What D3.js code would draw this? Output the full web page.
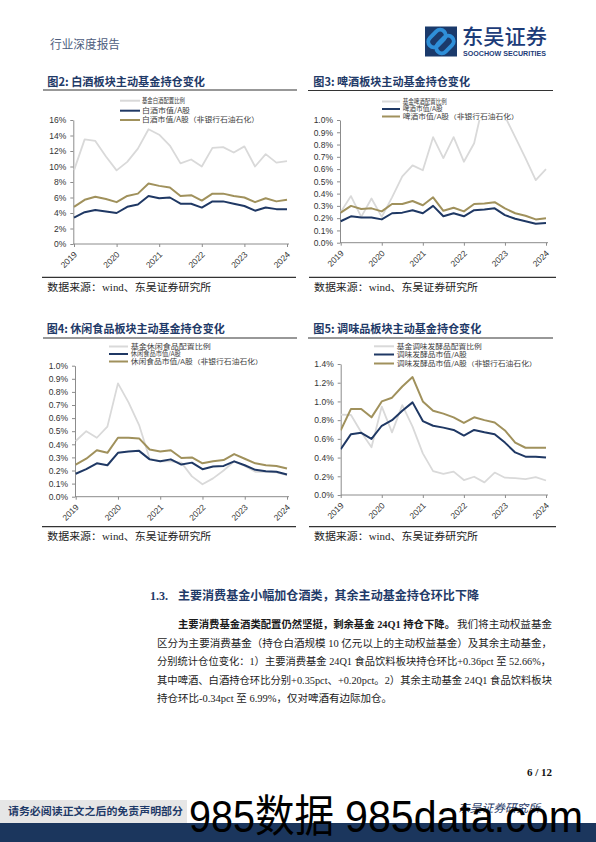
<!DOCTYPE html>
<html><head><meta charset="utf-8">
<script src="https://cdn.jsdelivr.net/npm/d3@7"></script>
<style>html,body{margin:0;padding:0;background:#fff;}svg{display:block}</style>
</head><body>
<svg id="page" width="596" height="842"></svg>
<script>
// ---------- data ----------
const quarters = ["2019Q1","2019Q2","2019Q3","2019Q4","2020Q1","2020Q2","2020Q3","2020Q4","2021Q1","2021Q2","2021Q3","2021Q4","2022Q1","2022Q2","2022Q3","2022Q4","2023Q1","2023Q2","2023Q3","2023Q4","2024Q1"];
const yearTicks = ["2019Q1","2020Q1","2021Q1","2022Q1","2023Q1","2024Q1"];

// Fig 2 baijiu (%)
const baijiuAlloc = [9.5,13.5,13.3,11.3,9.5,10.6,12.3,14.8,14.1,12.7,10.4,10.9,10.0,12.4,12.5,11.8,12.6,10.0,11.6,10.5,10.7];
const baijiuMcap = [3.4,4.1,4.4,4.2,4.0,4.8,5.1,6.2,5.9,6.0,5.2,5.2,4.7,5.5,5.5,5.2,4.9,4.3,4.7,4.5,4.5];
const baijiuMcapEx = [4.8,5.7,6.1,5.8,5.4,6.2,6.5,7.8,7.5,7.3,6.2,6.3,5.6,6.5,6.5,6.2,6.0,5.4,5.9,5.5,5.7];
// Fig 3 beer (%)
const beerAlloc = [0.25,0.38,0.21,0.36,0.21,0.37,0.54,0.63,0.59,0.86,0.69,0.86,0.66,0.81,1.18,1.20,1.03,0.86,0.69,0.51,0.60];
const beerMcap = [0.175,0.215,0.205,0.205,0.19,0.24,0.245,0.265,0.24,0.30,0.215,0.24,0.215,0.265,0.27,0.28,0.225,0.195,0.175,0.155,0.16];
const beerMcapEx = [0.245,0.30,0.275,0.28,0.255,0.315,0.315,0.34,0.305,0.37,0.26,0.285,0.255,0.315,0.32,0.33,0.28,0.24,0.22,0.19,0.20];
// Fig 4 snacks (%)
const snackAlloc = [0.425,0.50,0.45,0.535,0.865,0.72,0.547,0.29,0.27,0.27,0.26,0.155,0.095,0.14,0.20,0.27,0.235,0.19,0.19,0.185,0.165];
const snackMcap = [0.175,0.21,0.255,0.24,0.335,0.345,0.35,0.285,0.27,0.285,0.245,0.26,0.21,0.23,0.235,0.27,0.24,0.205,0.195,0.19,0.17];
const snackMcapEx = [0.245,0.29,0.355,0.335,0.45,0.45,0.445,0.36,0.345,0.355,0.295,0.30,0.255,0.27,0.28,0.325,0.29,0.255,0.24,0.235,0.215];
// Fig 5 seasoning (%)
const seasAlloc = [0.86,0.855,0.67,0.51,0.945,0.67,0.96,0.73,0.445,0.255,0.225,0.25,0.16,0.195,0.135,0.24,0.185,0.18,0.17,0.19,0.155];
const seasMcap = [0.49,0.65,0.665,0.60,0.74,0.80,0.90,0.99,0.79,0.74,0.72,0.695,0.635,0.695,0.67,0.65,0.56,0.455,0.41,0.41,0.40];
const seasMcapEx = [0.69,0.92,0.92,0.83,1.0,1.04,1.16,1.26,1.0,0.90,0.87,0.83,0.77,0.83,0.80,0.775,0.69,0.56,0.505,0.505,0.505];

const ticks2 = [0,2,4,6,8,10,12,14,16];
const ticks01 = [0,0.1,0.2,0.3,0.4,0.5,0.6,0.7,0.8,0.9,1.0];
const ticks5 = [0,0.2,0.4,0.6,0.8,1.0,1.2,1.4];

const titles = ["图2: 白酒板块主动基金持仓变化","图3: 啤酒板块主动基金持仓变化","图4: 休闲食品板块主动基金持仓变化","图5: 调味品板块主动基金持仓变化"];
const legend2 = ["基金白酒配置比例","白酒市值/A股","白酒市值/A股（非银行石油石化）"];
const legend3 = ["基金啤酒配置比例","啤酒市值/A股","啤酒市值/A股（非银行石油石化）"];
const legend4 = ["基金休闲食品配置比例","休闲食品市值/A股","休闲食品市值/A股（非银行石油石化）"];
const legend5 = ["基金调味发酵品配置比例","调味发酵品市值/A股","调味发酵品市值/A股（非银行石油石化）"];
const sourceText = "数据来源：wind、东吴证券研究所";

// ---------- style ----------
const CJK = "'Noto Sans CJK SC', sans-serif";
const SERIF = "'Liberation Serif','Noto Sans CJK SC', serif";
const SANS = "'Liberation Sans', Arial, sans-serif";
const NAVY = "#1f3864", OLIVE = "#a0915c", GRAY = "#d9d9d9", TITLE = "#1f3a68";

const svg = d3.select("#page");
svg.append("rect").attr("width",596).attr("height",842).attr("fill","#fff");

// ---------- header ----------
svg.append("text").attr("x",50).attr("y",49).attr("font-family",SERIF).attr("font-size",12)
  .attr("fill","#4d5d7d").attr("textLength",70).attr("lengthAdjust","spacingAndGlyphs").text("行业深度报告");
const logo = svg.append("g");
logo.append("rect").attr("x",425).attr("y",26.5).attr("width",32).attr("height",30).attr("fill","#1b3a6b");
const clip0 = svg.append("clipPath").attr("id","logoclip");
clip0.append("rect").attr("x",425).attr("y",26.5).attr("width",32).attr("height",30);
const lg = logo.append("g").attr("clip-path","url(#logoclip)");
lg.append("rect").attr("x",427).attr("y",33).attr("width",20).attr("height",11).attr("rx",5.5)
  .attr("transform","rotate(-45,437,38.5)").attr("fill","none").attr("stroke","#2f8fd8").attr("stroke-width",4);
lg.append("rect").attr("x",435).attr("y",39).attr("width",20).attr("height",11).attr("rx",5.5)
  .attr("transform","rotate(-45,445,44.5)").attr("fill","none").attr("stroke","#2f8fd8").attr("stroke-width",4);
logo.append("text").attr("x",462).attr("y",44).attr("font-family",CJK).attr("font-weight",500).attr("font-size",21)
  .attr("fill","#1d3c78").attr("textLength",85).attr("lengthAdjust","spacingAndGlyphs").text("东吴证券");
logo.append("text").attr("x",463).attr("y",56).attr("font-family",SANS).attr("font-weight",700).attr("font-size",6.8)
  .attr("fill","#1d3c78").attr("textLength",83).attr("lengthAdjust","spacingAndGlyphs").text("SOOCHOW SECURITIES");

// ---------- chart panels ----------
function rule(x1,x2,y){
  svg.append("line").attr("x1",x1).attr("x2",x2).attr("y1",y).attr("y2",y).attr("stroke","#333").attr("stroke-width",1.2);
}
function panelText(x,y,txt,len){
  svg.append("text").attr("x",x).attr("y",y).attr("font-family",CJK).attr("font-weight",700).attr("font-size",11.5)
    .attr("fill",TITLE).attr("textLength",len).attr("lengthAdjust","spacingAndGlyphs").text(txt);
}
function sourceLine(x,y){
  svg.append("text").attr("x",x).attr("y",y).attr("font-family",SERIF).attr("font-size",10.5)
    .attr("fill","#222").attr("textLength",164).attr("lengthAdjust","spacingAndGlyphs").text(sourceText);
}

rule(43,297,90); rule(308,553,90.5);
rule(42,296,277.3); rule(309,556,277.3);
rule(43,297,338); rule(308,553,338);
rule(42,296,526.7); rule(309,556,526.7);
panelText(47.3,85.5,titles[0],157.7);
panelText(313.3,85.5,titles[1],156.7);
panelText(46.7,332.5,titles[2],178);
panelText(313.3,332.5,titles[3],168);
sourceLine(47.3,290.5); sourceLine(314,290.5);
sourceLine(47.3,539.5); sourceLine(314,539.5);

let clipId = 0;
function drawChart(c){
  const g = svg.append("g");
  const x = d3.scalePoint().domain(quarters).range([c.x0,c.x1]);
  const y = d3.scaleLinear().domain([0,c.ymax]).range([c.yb,c.yt]);
  const ya = g.append("g").attr("transform",`translate(${c.ax},0)`)
    .call(d3.axisLeft(y).tickValues(c.yticks).tickFormat(c.fmt).tickSize(3).tickSizeOuter(0).tickPadding(4));
  const xa = g.append("g").attr("transform",`translate(0,${c.yb})`)
    .call(d3.axisBottom(x).tickValues(yearTicks).tickFormat(q=>q.slice(0,4)).tickSize(3).tickSizeOuter(0));
  xa.select(".domain").attr("d",`M${c.ax},0H${c.x1+2}`);
  [ya,xa].forEach(a=>{
    a.select(".domain").attr("stroke","#8c8c8c");
    a.selectAll(".tick line").attr("stroke","#8c8c8c");
    a.selectAll("text").attr("font-family",SANS).attr("font-size",8.5).attr("fill","#333");
  });
  xa.selectAll("text").attr("x",0).attr("y",0).attr("dy","0.35em").attr("text-anchor","end")
    .attr("transform","translate(1,9) rotate(-45)");
  const id = "clip"+(clipId++);
  svg.append("clipPath").attr("id",id).append("rect")
    .attr("x",c.ax).attr("y",c.yt).attr("width",c.x1-c.ax+4).attr("height",c.yb-c.yt);
  const line = d3.line().x((d,i)=>x(quarters[i])).y(d=>y(d));
  const series = [[c.s[0],GRAY,1.8],[c.s[1],NAVY,2],[c.s[2],OLIVE,2]];
  const pg = g.append("g").attr("clip-path",`url(#${id})`);
  series.forEach(([d,col,w])=>{
    pg.append("path").datum(d).attr("d",line).attr("fill","none").attr("stroke",col).attr("stroke-width",w)
      .attr("stroke-linejoin","round");
  });
  const cols = [GRAY,NAVY,OLIVE];
  c.legend.forEach((t,i)=>{
    const ly = c.ly[i];
    g.append("line").attr("x1",c.lx0).attr("x2",c.lx1).attr("y1",ly).attr("y2",ly)
      .attr("stroke",cols[i]).attr("stroke-width",2);
    g.append("text").attr("x",c.tx).attr("y",ly+2.2).attr("font-family",CJK).attr("font-size",c.lf)
      .attr("fill","#404040").attr("textLength",c.lw[i]).attr("lengthAdjust","spacingAndGlyphs").text(t);
  });
}

drawChart({x0:74,x1:287,ax:73.3,yb:244,yt:120,ymax:16,yticks:ticks2,fmt:d=>d+"%",
  s:[baijiuAlloc,baijiuMcap,baijiuMcapEx],legend:legend2,lf:7,
  lx0:120,lx1:140,tx:142,ly:[100.7,110.7,120],lw:[43,48,117]});
drawChart({x0:340.7,x1:546,ax:340,yb:242.7,yt:120,ymax:1.0,yticks:ticks01,fmt:d=>d.toFixed(1)+"%",
  s:[beerAlloc,beerMcap,beerMcapEx],legend:legend3,lf:6.3,
  lx0:382,lx1:400,tx:402.7,ly:[101.5,109,116.5],lw:[44,40,116]});
drawChart({x0:75.7,x1:287,ax:75,yb:496.7,yt:365.7,ymax:1.0,yticks:ticks01,fmt:d=>d.toFixed(1)+"%",
  s:[snackAlloc,snackMcap,snackMcapEx],legend:legend4,lf:6.3,
  lx0:109,lx1:128,tx:130.7,ly:[346.5,354,361.5],lw:[80,50,132]});
drawChart({x0:340.7,x1:546,ax:340.7,yb:495,yt:364,ymax:1.4,yticks:ticks5,fmt:d=>d.toFixed(1)+"%",
  s:[seasAlloc,seasMcap,seasMcapEx],legend:legend5,lf:6.3,
  lx0:374,lx1:394,tx:396.7,ly:[346.3,354.5,363.5],lw:[85,70,140]});

// ---------- section text ----------
svg.append("text").attr("x",150).attr("y",600).attr("font-family",SERIF).attr("font-weight",700).attr("font-size",12)
  .attr("fill",TITLE).text("1.3.");
svg.append("text").attr("x",178).attr("y",600).attr("font-family",CJK).attr("font-weight",700).attr("font-size",12)
  .attr("fill",TITLE).attr("textLength",301).attr("lengthAdjust","spacingAndGlyphs").text("主要消费基金小幅加仓酒类，其余主动基金持仓环比下降");

function para(x,y,txt,len,bold){
  const t = svg.append("text").attr("x",x).attr("y",y).attr("font-family",SERIF).attr("font-size",10.5)
    .attr("fill","#1a1a1a").attr("font-weight",bold?700:400).text(txt);
  if(len) t.attr("textLength",len).attr("lengthAdjust","spacingAndGlyphs");
}
para(178,627.5,"主要消费基金酒类配置仍然坚挺，剩余基金 24Q1 持仓下降。",277,true);
para(457,627.5,"我们将主动权益基金",95,false);
para(157,646.5,"区分为主要消费基金（持仓白酒规模 10 亿元以上的主动权益基金）及其余主动基金，",395,false);
para(157,665,"分别统计仓位变化：1）主要消费基金 24Q1 食品饮料板块持仓环比+0.36pct 至 52.66%，",394,false);
para(157,683.5,"其中啤酒、白酒持仓环比分别+0.35pct、+0.20pct。2）其余主动基金 24Q1 食品饮料板块",395,false);
para(157,702,"持仓环比-0.34pct 至 6.99%，仅对啤酒有边际加仓。",null,false);

svg.append("text").attr("x",552).attr("y",776).attr("text-anchor","end").attr("font-family",SERIF)
  .attr("font-weight",700).attr("font-size",11).attr("fill","#111").text("6 / 12");

// ---------- footer ----------
svg.append("rect").attr("x",0).attr("y",800).attr("width",187).attr("height",23).attr("fill","#e6e6e6");
svg.append("text").attr("x",8).attr("y",815).attr("font-family",CJK).attr("font-weight",700).attr("font-size",10.5)
  .attr("fill",TITLE).attr("textLength",175).attr("lengthAdjust","spacingAndGlyphs").text("请务必阅读正文之后的免责声明部分");
svg.append("text").attr("x",458).attr("y",812).attr("font-family",CJK).attr("font-style","italic").attr("font-size",11)
  .attr("fill",TITLE).attr("textLength",82).attr("lengthAdjust","spacingAndGlyphs").text("东吴证券研究所");
svg.append("rect").attr("x",0).attr("y",823).attr("width",596).attr("height",19).attr("fill","#1b365d");
svg.append("text").attr("x",189).attr("y",832).attr("font-family",SANS+",'Noto Sans CJK SC'").attr("font-size",44)
  .attr("fill","#000").attr("textLength",145).attr("lengthAdjust","spacingAndGlyphs").text("985数据");
svg.append("text").attr("x",345).attr("y",832).attr("font-family",SANS).attr("font-size",44)
  .attr("fill","#000").attr("textLength",238).attr("lengthAdjust","spacingAndGlyphs").text("985data.com");
</script>
</body></html>
